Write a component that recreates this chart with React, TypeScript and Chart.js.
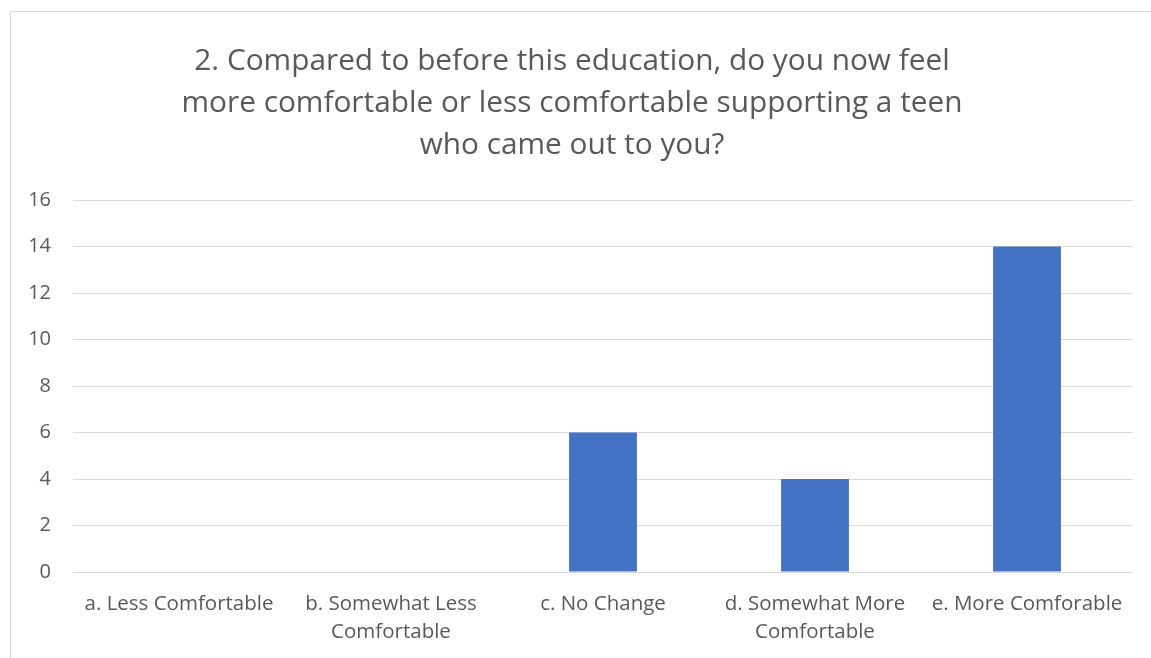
import React, { useEffect, useRef } from "react";
import { Chart, registerables } from "chart.js";

Chart.register(...registerables);

const titleLines = [
  "2. Compared to before this education, do you now feel",
  "more comfortable or less comfortable supporting a teen",
  "who came out to you?",
];
const categories: (string | string[])[] = [
  "a. Less Comfortable",
  ["b. Somewhat Less", "Comfortable"],
  "c. No Change",
  ["d. Somewhat More", "Comfortable"],
  "e. More Comforable",
];
const values = [0, 0, 6, 4, 14];
const yMin = 0;
const yMax = 16;
const yStep = 2;

export default function App() {
  const ref = useRef<HTMLCanvasElement | null>(null);

  useEffect(() => {
    if (!ref.current) return;
    const chart = new Chart(ref.current, {
      type: "bar",
      data: {
        labels: categories,
        datasets: [
          {
            data: values,
            backgroundColor: "#4472C4",
            borderWidth: 0,
            categoryPercentage: 1,
            barPercentage: 0.32,
          },
        ],
      },
      options: {
        animation: false,
        responsive: false,
        maintainAspectRatio: false,
        layout: { padding: { left: 0, right: 18, top: 0, bottom: 0 } },
        plugins: {
          legend: { display: false },
          tooltip: { enabled: false },
          title: {
            display: true,
            text: titleLines,
            color: "#595959",
            font: { family: "'Open Sans', sans-serif", size: 29.8, weight: "normal", lineHeight: 42 / 29.8 },
            padding: { top: 29, bottom: 33 },
          },
        },
        scales: {
          x: {
            grid: { display: false, drawTicks: false },
            border: { display: false },
            ticks: {
              color: "#595959",
              font: { family: "'Open Sans', sans-serif", size: 20.5, lineHeight: 28 / 20.5 },
              padding: 18,
              maxRotation: 0,
              autoSkip: false,
            },
            afterFit: (scale: any) => {
              scale.height = 86;
            },
          },
          y: {
            min: yMin,
            max: yMax,
            grid: { color: "#d9d9d9", lineWidth: 1, drawTicks: false },
            border: { display: false },
            ticks: {
              stepSize: yStep,
              color: "#595959",
              font: { family: "'Open Sans', sans-serif", size: 20 },
              padding: 22,
            },
            afterFit: (scale: any) => {
              scale.width = 62;
            },
          },
        },
      },
    });
    return () => chart.destroy();
  }, []);

  return (
    <div
      style={{
        position: "fixed",
        left: 0,
        top: 0,
        width: 1151,
        height: 658,
        overflow: "hidden",
        background: "#fff",
      }}
    >
      <div
        style={{
          position: "absolute",
          left: 10,
          top: 11,
          width: 1160,
          height: 660,
          border: "1px solid #d9d9d9",
          background: "#fff",
        }}
      >
        <canvas ref={ref} width={1140} height={646} style={{ display: "block" }} />
      </div>
    </div>
  );
}
